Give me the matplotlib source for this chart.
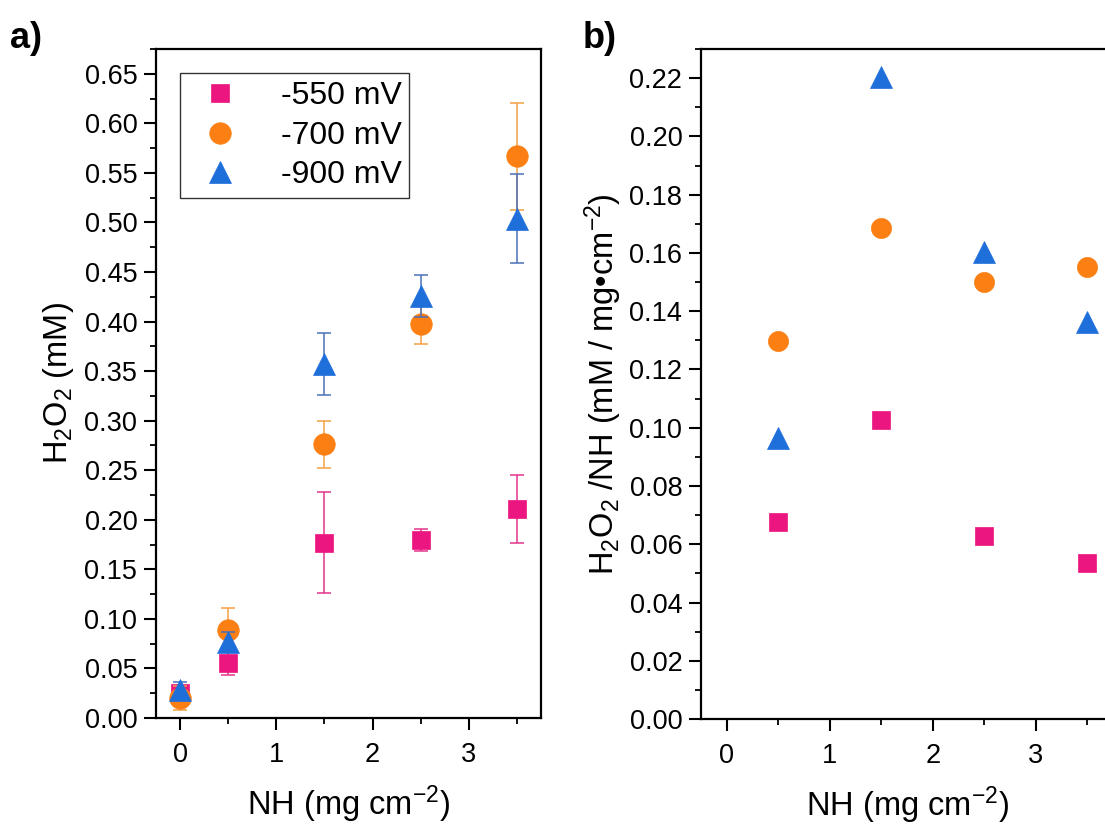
import numpy as np
import matplotlib
matplotlib.use("Agg")
import matplotlib.pyplot as plt
from matplotlib.ticker import MultipleLocator

plt.rcParams["font.family"] = ["Liberation Sans", "DejaVu Sans"]
plt.rcParams["mathtext.fontset"] = "custom"
plt.rcParams["mathtext.rm"] = "Liberation Sans"
plt.rcParams["mathtext.it"] = "Liberation Sans:italic"
plt.rcParams["mathtext.bf"] = "Liberation Sans:bold"

# --- data ---
nh = [0, 0.5, 1.5, 2.5, 3.5]
nh_b = [0.5, 1.5, 2.5, 3.5]
labels = ["-550 mV", "-700 mV", "-900 mV"]

h2o2_550 = [0.025, 0.056, 0.177, 0.180, 0.211]
err_550 = [0.005, 0.013, 0.051, 0.011, 0.034]
h2o2_700 = [0.020, 0.089, 0.276, 0.398, 0.567]
err_700 = [0.012, 0.022, 0.024, 0.021, 0.054]
h2o2_900 = [0.028, 0.077, 0.357, 0.426, 0.504]
err_900 = [0.008, 0.010, 0.031, 0.021, 0.045]

ratio_550 = [0.0675, 0.1025, 0.0627, 0.0535]
ratio_700 = [0.1297, 0.1685, 0.1500, 0.1553]
ratio_900 = [0.0965, 0.2205, 0.1602, 0.1363]

colors = ["#EC1680", "#FB7F12", "#1F6FDB"]
ecolors = ["#E2358C", "#F3A045", "#4A70B8"]
markers = ["s", "o", "^"]
msizes = [13, 15.5, 15.5]

fig = plt.figure(figsize=(11.05, 8.24), dpi=100)
ax_a = fig.add_axes([0.1412, 0.1286, 0.3484, 0.8119])
ax_b = fig.add_axes([0.6344, 0.1274, 0.3729, 0.8131])

# a) concentration with error bars
series_a = [(h2o2_550, err_550), (h2o2_700, err_700), (h2o2_900, err_900)]
for (y, e), c, ec, m, ms, lab in zip(series_a, colors, ecolors, markers, msizes, labels):
    ax_a.errorbar(nh, y, yerr=e, fmt="none", ecolor=ec, elinewidth=1.1,
                  capsize=5, capthick=1.1)
    ax_a.plot(nh, y, linestyle="none", marker=m, ms=ms, color=c, mec=c,
              mew=0.5, label=lab)

# b) normalised
series_b = [ratio_550, ratio_700, ratio_900]
for y, c, m, ms in zip(series_b, colors, markers, [13, 14.5, 15.5]):
    ax_b.plot(nh_b, y, linestyle="none", marker=m, ms=ms, color=c, mec=c,
              mew=0.5)

for ax in (ax_a, ax_b):
    ax.set_xlim(-0.25, 3.75)
    ax.xaxis.set_major_locator(MultipleLocator(1))
    ax.xaxis.set_minor_locator(MultipleLocator(0.5))
    for s in ax.spines.values():
        s.set_linewidth(1.6)
    ax.tick_params(which="major", length=8.5, width=1.5, labelsize=19.5)
    ax.tick_params(which="minor", length=4, width=1.3)
    ax.tick_params(axis="x", which="major", pad=9)
    ax.tick_params(axis="y", which="major", pad=5)
    ax.set_xlabel("NH (mg cm$^{-2}$)", fontsize=23.5, labelpad=11)

ax_a.set_ylim(0, 0.675)
ax_a.yaxis.set_major_locator(MultipleLocator(0.05))
ax_a.yaxis.set_minor_locator(MultipleLocator(0.025))
ax_a.yaxis.set_major_formatter(plt.FormatStrFormatter("%.2f"))
ax_a.set_ylabel("H$_2$O$_2$ (mM)", fontsize=23.5, labelpad=6)

ax_b.set_ylim(0, 0.23)
ax_b.yaxis.set_major_locator(MultipleLocator(0.02))
ax_b.yaxis.set_minor_locator(MultipleLocator(0.01))
ax_b.yaxis.set_major_formatter(plt.FormatStrFormatter("%.2f"))
ax_b.set_ylabel("H$_2$O$_2$ /NH (mM / mg\u2022cm$^{-2}$)", fontsize=23.5, labelpad=4)

leg = ax_a.legend(loc="upper left", bbox_to_anchor=(0.062, 0.964), fontsize=23,
                  frameon=True, fancybox=False, edgecolor="black",
                  borderpad=0.25, labelspacing=0.3, handlelength=2.0,
                  handletextpad=0.9, borderaxespad=0)
leg.get_frame().set_linewidth(1.0)

fig.text(0.009, 0.975, "a)", fontsize=26, fontweight="bold", va="top", ha="left")
fig.text(0.527, 0.975, "b)", fontsize=26, fontweight="bold", va="top", ha="left")

fig.savefig("out.png", dpi=100)
plt.close(fig)
